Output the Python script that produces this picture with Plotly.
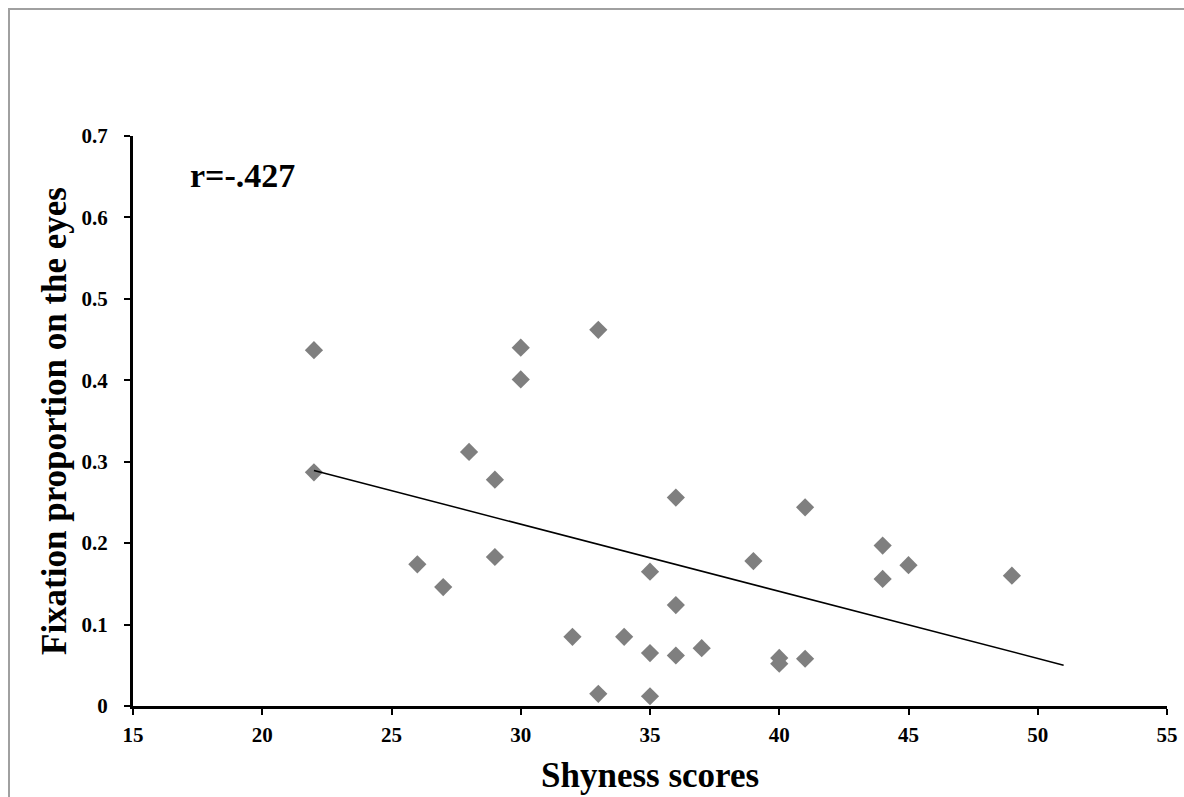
import numpy as np
import plotly.graph_objects as go

shyness = [22, 22, 26, 27, 28, 29, 29, 30, 30, 32, 33, 33, 34, 35, 35, 35,
           36, 36, 36, 37, 39, 40, 40, 41, 41, 44, 44, 45, 49]
fixation = [0.437, 0.287, 0.174, 0.146, 0.312, 0.278, 0.183, 0.440, 0.401,
            0.085, 0.462, 0.015, 0.085, 0.165, 0.065, 0.012, 0.256, 0.124,
            0.062, 0.071, 0.178, 0.059, 0.052, 0.244, 0.058, 0.197, 0.156,
            0.173, 0.160]
trend_x = [22, 51]
r_label = "r=-.427"
x_ticks = [15, 20, 25, 30, 35, 40, 45, 50, 55]
y_ticks = [0, 0.1, 0.2, 0.3, 0.4, 0.5, 0.6, 0.7]
y_ticktext = ["0", "0.1", "0.2", "0.3", "0.4", "0.5", "0.6", "0.7"]

slope, intercept = np.polyfit(shyness, fixation, 1)
trend_y = [slope * x + intercept for x in trend_x]

FONT = "Liberation Serif"
TICKFONT = dict(family=FONT, size=21, color="black", weight="bold")

L, R, T, B = 133, 17, 136, 91
PW = 1184 - L - R
PH = 797 - T - B

fig = go.Figure()
fig.add_trace(go.Scatter(
    x=shyness, y=fixation, mode="markers",
    marker=dict(symbol="diamond", size=14, color="#7f7f7f", line=dict(width=0)),
    showlegend=False))
fig.add_trace(go.Scatter(
    x=trend_x, y=trend_y, mode="lines",
    line=dict(color="black", width=1.5), showlegend=False))

fig.update_layout(
    width=1184, height=797,
    margin=dict(l=L, r=R, t=T, b=B),
    paper_bgcolor="white", plot_bgcolor="white",
    font=dict(family=FONT, color="black"),
    xaxis=dict(range=[15, 55], tickvals=x_ticks, automargin=False,
               showline=True, linecolor="black", linewidth=3,
               ticks="outside", ticklen=6, tickwidth=2, tickcolor="black",
               showgrid=False, zeroline=False, ticklabelstandoff=2,
               ticklabeloverflow="allow", tickfont=TICKFONT),
    yaxis=dict(range=[0, 0.7], tickvals=y_ticks, ticktext=y_ticktext,
               automargin=False,
               showline=True, linecolor="black", linewidth=3,
               ticks="outside", ticklen=6, tickwidth=2, tickcolor="black",
               showgrid=False, zeroline=False, ticklabelstandoff=12,
               ticklabeloverflow="allow", tickfont=TICKFONT),
)

fig.add_annotation(text="Shyness scores", xref="paper", yref="paper",
                   x=(650 - L) / PW, y=(T + PH - 775) / PH, yanchor="middle",
                   showarrow=False,
                   font=dict(family=FONT, size=35, color="black", weight="bold"))
fig.add_annotation(text="Fixation proportion on the eyes", xref="paper", yref="paper",
                   x=(54 - L) / PW, y=0.5, xanchor="center", yanchor="middle",
                   textangle=-90, showarrow=False,
                   font=dict(family=FONT, size=35, color="black", weight="bold"))
fig.add_annotation(text=r_label, xref="paper", yref="paper",
                   x=(188 - L) / PW, y=(T + PH - 175) / PH, xanchor="left",
                   yanchor="middle", showarrow=False,
                   font=dict(family=FONT, size=34, color="black", weight="bold"))

# outer chart frame
fig.add_shape(type="rect", xref="paper", yref="paper",
              x0=(9 - L) / PW, x1=(1200 - L) / PW, y0=-2, y1=(T + PH - 9) / PH,
              line=dict(color="#a0a0a0", width=2), fillcolor="rgba(0,0,0,0)",
              layer="below")

fig.write_html("out.html", config={"displayModeBar": False},
               post_script="document.body.style.margin='0px';document.body.style.overflow='hidden';")
